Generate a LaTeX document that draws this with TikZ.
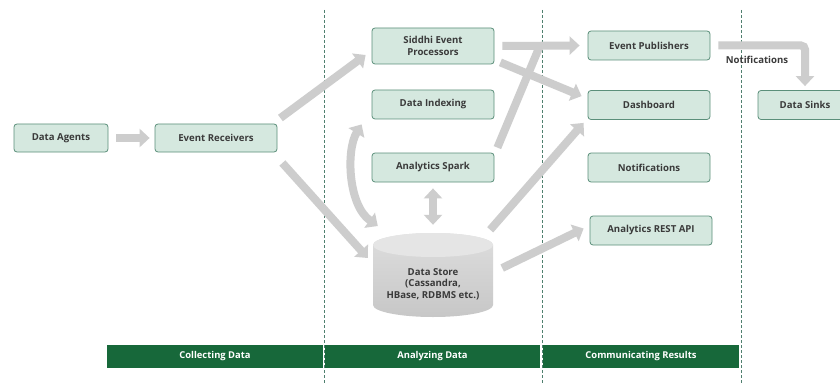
\documentclass[tikz,border=0pt]{standalone}
\usepackage{fontspec}
\setmainfont{Open Sans}
\usetikzlibrary{arrows.meta,calc}
\definecolor{boxfill}{HTML}{D5E8DF}
\definecolor{boxline}{HTML}{5B8F7A}
\definecolor{txt}{HTML}{3A3A3A}
\definecolor{arr}{HTML}{CDCDCD}
\definecolor{bar}{HTML}{17683A}
\definecolor{sep}{HTML}{4F7F6E}
\tikzset{
  box/.style={draw=boxline, fill=boxfill, rounded corners=3pt, line width=0.8pt,
    minimum width=122pt, minimum height=29pt, inner sep=1pt, align=center,
    font=\fontsize{9.6}{11.5}\selectfont\bfseries, text=txt},
  flow/.style={draw=arr, line width=8pt, -{Triangle[width=18pt,length=10pt]}},
  flowtwo/.style={draw=arr, line width=8pt, {Triangle[width=18pt,length=10pt]}-{Triangle[width=18pt,length=10pt]}},
  flowline/.style={draw=arr, line width=8pt},
  phase/.style={fill=bar, text=white, minimum height=23pt, inner sep=0pt,
    font=\fontsize{9.4}{11}\selectfont\bfseries},
  divider/.style={draw=sep, dashed, line width=0.6pt, dash pattern=on 3pt off 2pt},
}
\begin{document}
\begin{tikzpicture}[x=1pt,y=-1pt]
\useasboundingbox (0,0) rectangle (840,385);
\clip (0,0) rectangle (840,385);
\fill[white] (0,0) rectangle (840,385);

% dividers
\draw[divider] (324,10) -- (324,385);
\draw[divider] (542,10) -- (542,385);
\draw[divider] (741,10) -- (741,385);

% phase bars
\node[phase, minimum width=216pt] (p1) at (215,356.5) {Collecting Data};
\node[phase, minimum width=215pt] (p2) at (432.5,356.5) {Analyzing Data};
\node[phase, minimum width=196pt] (p3) at (641,356.5) {Communicating Results};

% boxes
\node[box, minimum width=94pt, minimum height=28pt] (da) at (61,138) {Data Agents};
\node[box, minimum height=28pt] (er) at (216,138) {Event Receivers};
\node[box, minimum height=36pt] (sp) at (433,46) {Siddhi Event\\Processors};
\node[box] (di) at (433,104.5) {Data Indexing};
\node[box] (as) at (433,167.5) {Analytics Spark};
\node[box] (ep) at (649,45.5) {Event Publishers};
\node[box] (db) at (649,105) {Dashboard};
\node[box] (nt) at (649,167.5) {Notifications};
\node[box] (api) at (651,230.5) {Analytics REST API};
\node[box, minimum width=94pt] (sink) at (805,105) {Data Sinks};

% data store cylinder
\node[minimum width=120pt, minimum height=84pt, inner sep=0pt] (ds) at (433,275) {};
\shade[top color=black!13, bottom color=black!22]
  (373,245) -- (373,305) arc[start angle=180, end angle=360, x radius=60, y radius=-12]
  -- (493,245) arc[start angle=0, end angle=180, x radius=60, y radius=-12] -- cycle;
\fill[black!10] (433,245) ellipse[x radius=60, y radius=12];
\node[align=center, text=txt, font=\fontsize{9.6}{11.5}\selectfont\bfseries] (dst) at (433,284)
  {Data Store\\(Cassandra,\\HBase, RDBMS etc.)};

% connectors
\coordinate (j) at (540,45.5);
\draw[flow] ([shift={(8,0)}]da.east) -- ([shift={(-5,0)}]er.west);
\draw[flow] ([shift={(3,-20)}]er.east) -- ([shift={(-6,9)}]sp.west);
\draw[flow] ([shift={(5,25)}]er.east) -- ([shift={(-5,-17)}]ds.west);
\draw[flowtwo] ([shift={(5,-49)}]ds.west) .. controls (348,205) and (346,150) .. ([shift={(-10,5)}]di.south west);
\draw[flowtwo] ([shift={(0,6)}]as.south) -- ([shift={(0,-8)}]ds.north);
\draw[flowline] ([shift={(3,-5)}]as.north east) -- (j);
\draw[flow] ([shift={(8,0)}]sp.east) -- ([shift={(-8,0)}]ep.west);
\draw[flow] ([shift={(6,-2)}]sp.south east) -- ([shift={(-6,6)}]db.north west);
\draw[flow] ([shift={(-3,-3)}]ds.north east) -- ([shift={(-4,3)}]db.south west);
\draw[flow] ([shift={(9,-7)}]ds.east) -- ([shift={(-6,-2)}]api.west);
\draw[flow, rounded corners=4pt] ([shift={(8,0)}]ep.east) -| ([shift={(0,-4)}]sink.north);
\node[text=txt, font=\fontsize{9.6}{11.5}\selectfont\bfseries] (nl) at (757,60) {Notifications};
\end{tikzpicture}
\end{document}
